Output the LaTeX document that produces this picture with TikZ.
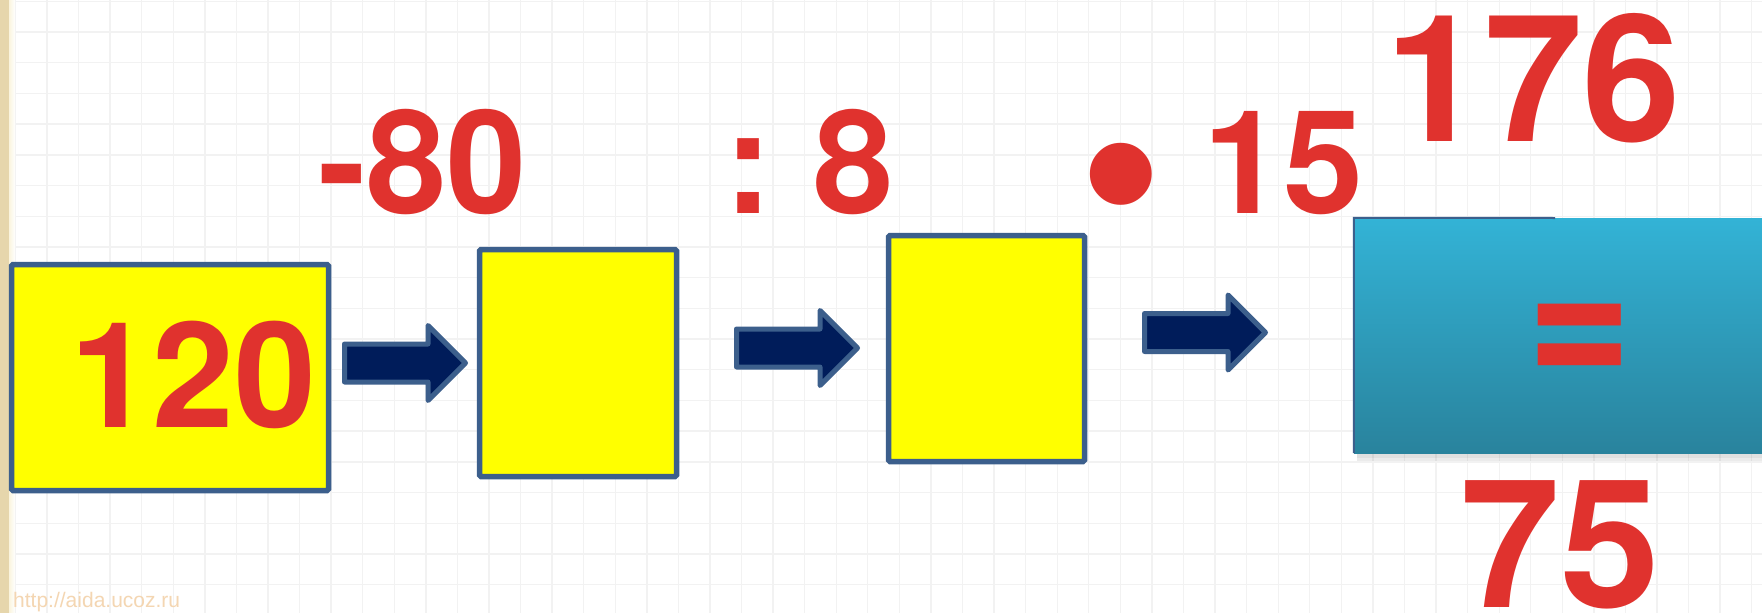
\documentclass[tikz,border=0pt]{standalone}
\usepackage{fontspec}
\setmainfont{Liberation Sans}
\newfontfamily\numfont{TeX Gyre Heros}
\definecolor{numred}{RGB}{224,50,46}
\definecolor{boxedge}{RGB}{60,95,140}
\definecolor{navy}{RGB}{0,28,90}
\definecolor{yfill}{RGB}{255,255,0}
\definecolor{gridc}{RGB}{242,242,242}
\definecolor{striptan}{RGB}{230,214,172}
\definecolor{stripfade}{RGB}{250,244,222}
\definecolor{wmark}{RGB}{244,214,178}
\definecolor{cyantop}{RGB}{51,179,214}
\definecolor{cyanbot}{RGB}{41,131,157}
\tikzset{
  ybox/.style={draw=boxedge, line width=5.5pt, fill=yfill, rounded corners=1.5pt, inner sep=0pt},
  bigred/.style={text=numred, inner sep=0pt, font=\numfont\bfseries\fontsize{#1}{#1}\selectfont},
  blockarrow/.style={draw=boxedge, fill=navy, line width=5pt, line join=round},
}
\begin{document}
\begin{tikzpicture}[x=1pt,y=-1pt]
\useasboundingbox (0,0) rectangle (1762,613);
\fill[white] (0,0) rectangle (1762,613);
% grid
\foreach \i in {0,...,56} \draw[gridc, line width=1.4pt] ({15.4+31.57*\i},0) -- ({15.4+31.57*\i},613);
\foreach \j in {0,...,20} \draw[gridc, line width=1.4pt] (0,{1.3+30.7*\j}) -- (1762,{1.3+30.7*\j});
% left strip
\fill[left color=stripfade, right color=white] (9,0) rectangle (15,613);
\fill[striptan] (0,0) rectangle (9,613);
\node[anchor=base west, inner sep=0pt, text=wmark, font=\fontsize{21}{21}\selectfont] (wm) at (13,607) {http://aida.ucoz.ru};

% boxes
\node[ybox, minimum width=317pt, minimum height=226pt] (b1) at (170,377.5) {};
\node[ybox, minimum width=197pt, minimum height=227pt] (b2) at (578,363) {};
\node[ybox, minimum width=196pt, minimum height=226pt] (b3) at (986.5,348.5) {};

% blue result box with shadow
\fill[black, opacity=0.12] (1357,449) rectangle (1770,458);
\fill[black, opacity=0.08] (1357,458) rectangle (1770,461);
\node[inner sep=0pt, minimum width=416pt, minimum height=235pt, top color=cyantop, bottom color=cyanbot] (b4) at (1562,335.5) {};
\draw[boxedge, line width=2pt] (1555,218) -- (b4.north west) -- (b4.south west);

% arrows
\coordinate (a1) at (342,363);
\coordinate (a2) at (734,348);
\coordinate (a3) at (1142,332.5);
\foreach \a in {a1,a2,a3}
  \draw[blockarrow] (\a) ++(2.5,-19) -- ++(83.5,0) -- ++(0,-18.5) -- ++(37.5,37.5) -- ++(-37.5,37.5) -- ++(0,-18.5) -- ++(-83.5,0) -- cycle;

% numbers
\node[bigred=147] (n120) at (193.5,375) {120};
\node[bigred=144] (op1) at (423,162) {-80};
\node[bigred=144] (op2) at (809,162) {: \hspace{-13pt}8};
\node[text=numred, inner sep=0pt, font=\bfseries\fontsize{216}{216}\selectfont, anchor=base] (dot) at (1121,245.5) {•};
\node[bigred=144] (op3) at (1283.5,163.5) {15};
\node[bigred=177] (n176) at (1533.5,78) {176};
\node[bigred=179, anchor=base] (eq) at (1580,389.6) {\scalebox{1}[1.22]{=}};
\node[bigred=179] (n75) at (1560.5,544.5) {75};
\end{tikzpicture}
\end{document}
